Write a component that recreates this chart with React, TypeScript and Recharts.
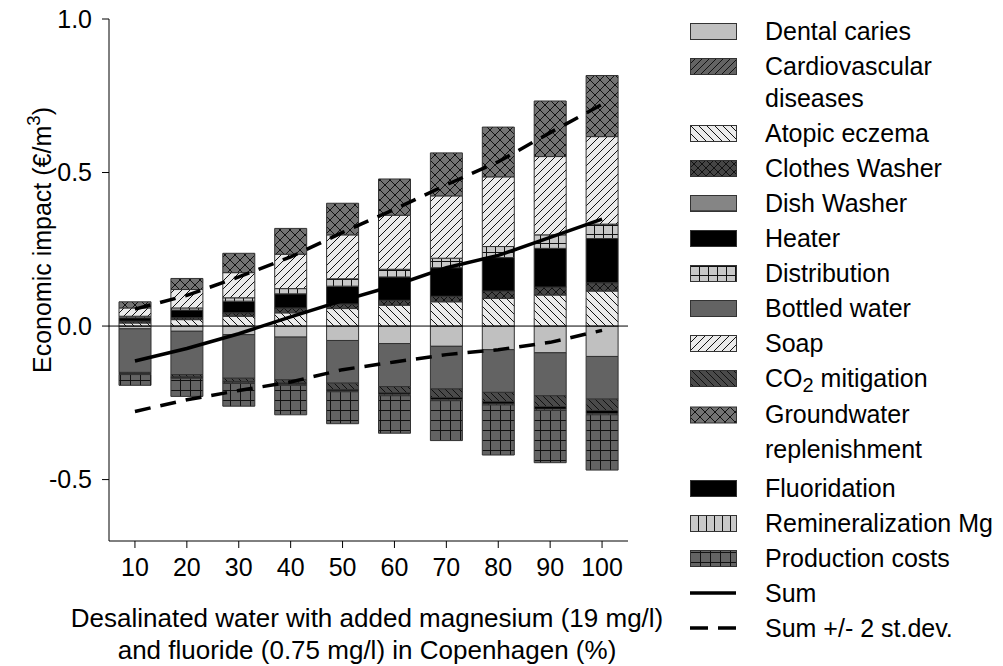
import React from 'react'
import { ComposedChart, Bar, Line, XAxis, YAxis, ReferenceLine } from 'recharts'

const categories = ['10', '20', '30', '40', '50', '60', '70', '80', '90', '100']

// stacked components (€/m3); costs below zero, benefits above
const dentalCaries = [-0.009, -0.017, -0.028, -0.036, -0.047, -0.057, -0.066, -0.077, -0.087, -0.099]
const cardiovascular = [0, 0, 0, 0, 0, 0, 0, 0, 0, 0]
const atopicEczema = [0.01, 0.021, 0.032, 0.043, 0.057, 0.068, 0.079, 0.09, 0.101, 0.114]
const clothesWasher = [0.006, 0.006, 0.011, 0.016, 0.015, 0.016, 0.018, 0.024, 0.026, 0.027]
const dishWasher = [0, 0, 0, 0, 0, 0, 0, 0, 0, 0]
const heater = [0.011, 0.025, 0.038, 0.046, 0.058, 0.076, 0.093, 0.109, 0.126, 0.144]
const distribution = [0.005, 0.007, 0.011, 0.017, 0.024, 0.025, 0.031, 0.036, 0.044, 0.047]
const bottledWater = [-0.142, -0.141, -0.142, -0.139, -0.139, -0.14, -0.139, -0.139, -0.14, -0.139]
const soap = [0.027, 0.06, 0.082, 0.112, 0.143, 0.176, 0.203, 0.227, 0.255, 0.285]
const co2Mitigation = [-0.004, -0.008, -0.011, -0.011, -0.021, -0.021, -0.028, -0.03, -0.035, -0.037]
const groundwater = [0.02, 0.036, 0.063, 0.084, 0.103, 0.118, 0.14, 0.162, 0.181, 0.199]
const fluoridation = [-0.002, -0.003, -0.004, -0.005, -0.005, -0.006, -0.007, -0.008, -0.009, -0.01]
const remineralizationMg = [-0.001, -0.001, -0.002, -0.002, -0.002, -0.003, -0.003, -0.003, -0.004, -0.004]
const productionCosts = [-0.035, -0.059, -0.074, -0.096, -0.104, -0.122, -0.13, -0.163, -0.17, -0.18]

const sum = [-0.114, -0.073, -0.025, 0.03, 0.083, 0.132, 0.19, 0.23, 0.289, 0.348]
const sumUpper = [0.055, 0.1, 0.16, 0.225, 0.305, 0.38, 0.46, 0.535, 0.63, 0.722]
const sumLower = [-0.278, -0.24, -0.21, -0.182, -0.142, -0.117, -0.093, -0.077, -0.053, -0.014]

const yTicks = [-0.5, 0, 0.5, 1]

const rows = categories.map((pct, i) => ({
  pct,
  dental: dentalCaries[i],
  cardio: cardiovascular[i],
  atopic: atopicEczema[i],
  clothes: clothesWasher[i],
  dish: dishWasher[i],
  heater: heater[i],
  distribution: distribution[i],
  bottled: bottledWater[i],
  soap: soap[i],
  co2: co2Mitigation[i],
  groundwater: groundwater[i],
  fluoridation: fluoridation[i],
  remin: remineralizationMg[i],
  production: productionCosts[i],
  sum: sum[i],
  upper: sumUpper[i],
  lower: sumLower[i],
}))

const series = [
  { key: 'dental', name: 'Dental caries', fill: '#c0c0c0' },
  { key: 'cardio', name: 'Cardiovascular\ndiseases', fill: 'url(#pCardio)' },
  { key: 'atopic', name: 'Atopic eczema', fill: 'url(#pAtopic)' },
  { key: 'clothes', name: 'Clothes Washer', fill: 'url(#pClothes)' },
  { key: 'dish', name: 'Dish Washer', fill: 'url(#pDish)' },
  { key: 'heater', name: 'Heater', fill: '#000' },
  { key: 'distribution', name: 'Distribution', fill: 'url(#pDistr)' },
  { key: 'bottled', name: 'Bottled water', fill: '#636363' },
  { key: 'soap', name: 'Soap', fill: 'url(#pSoap)' },
  { key: 'co2', name: 'CO2 mitigation', fill: 'url(#pCo2)' },
  { key: 'groundwater', name: 'Groundwater\nreplenishment', fill: 'url(#pGround)' },
  { key: 'fluoridation', name: 'Fluoridation', fill: '#000' },
  { key: 'remin', name: 'Remineralization Mg', fill: 'url(#pRemin)' },
  { key: 'production', name: 'Production costs', fill: 'url(#pProd)' },
]

const FONT = '"Liberation Sans", Arial, sans-serif'

function Hatch({ id, bg, size, kind }: { id: string; bg: string; size: number; kind: string }) {
  const s = size
  const fwd = `M0,${s} L${s},0 M-2,2 L2,-2 M${s - 2},${s + 2} L${s + 2},${s - 2}`
  const back = `M0,0 L${s},${s} M-2,${s - 2} L2,${s + 2} M${s - 2},-2 L${s + 2},2`
  let d = ''
  if (kind === 'fwd') d = fwd
  if (kind === 'back') d = back
  if (kind === 'cross') d = fwd + ' ' + back
  if (kind === 'grid') d = `M0,0.5 L${s},0.5 M0.5,0 L0.5,${s}`
  if (kind === 'vert') d = `M0.5,0 L0.5,${s}`
  if (kind === 'horiz') d = `M0,${s / 2} L${s},${s / 2}`
  return (
    <pattern id={id} patternUnits="userSpaceOnUse" width={s} height={s}>
      <rect width={s} height={s} fill={bg} />
      <path d={d} stroke="#111" strokeWidth={1} fill="none" />
    </pattern>
  )
}

function Patterns() {
  return (
    <svg width={0} height={0} style={{ position: 'absolute' }}>
      <defs>
        <Hatch id="pCardio" bg="#636363" size={7} kind="fwd" />
        <Hatch id="pAtopic" bg="#ebebeb" size={8} kind="back" />
        <Hatch id="pClothes" bg="#454545" size={8} kind="cross" />
        <Hatch id="pDish" bg="#858585" size={16} kind="horiz" />
        <Hatch id="pDistr" bg="#c8c8c8" size={9} kind="grid" />
        <Hatch id="pSoap" bg="#ebebeb" size={8} kind="fwd" />
        <Hatch id="pCo2" bg="#4a4a4a" size={7} kind="back" />
        <Hatch id="pGround" bg="#737373" size={10} kind="cross" />
        <Hatch id="pRemin" bg="#c8c8c8" size={8} kind="vert" />
        <Hatch id="pProd" bg="#636363" size={10} kind="grid" />
      </defs>
    </svg>
  )
}

function LegendBlock() {
  return (
    <div style={{ position: 'absolute', left: 690, top: 15, fontFamily: FONT, fontSize: 25, color: '#000' }}>
      {series.map((s) => {
        const wide = s.key === 'groundwater'
        return (
          <div key={s.key} style={{ display: 'flex', alignItems: 'flex-start', marginBottom: wide ? 5 : 3 }}>
            <svg width={48} height={wide ? 35 : 32} style={{ flex: 'none' }}>
              <rect x={0.5} y={wide ? 10 : 8.5} width={46} height={16} fill={s.fill} stroke="#333" />
            </svg>
            <div style={{ marginLeft: 27, lineHeight: wide ? '35px' : '32px', whiteSpace: 'pre-line' }}>
              {s.key === 'co2' ? (
                <span>
                  CO<span style={{ fontSize: '0.8em', position: 'relative', top: '0.25em', lineHeight: 0 }}>2</span> mitigation
                </span>
              ) : (
                s.name
              )}
            </div>
          </div>
        )
      })}
      <div style={{ display: 'flex', marginBottom: 3 }}>
        <svg width={48} height={32} style={{ flex: 'none' }}>
          <line x1={0} x2={46} y1={16} y2={16} stroke="#000" strokeWidth={3.5} />
        </svg>
        <div style={{ marginLeft: 27, lineHeight: '32px' }}>Sum</div>
      </div>
      <div style={{ display: 'flex' }}>
        <svg width={48} height={32} style={{ flex: 'none' }}>
          <line x1={0} x2={46} y1={16} y2={16} stroke="#000" strokeWidth={3.5} strokeDasharray="18 10" />
        </svg>
        <div style={{ marginLeft: 27, lineHeight: '32px' }}>Sum +/- 2 st.dev.</div>
      </div>
    </div>
  )
}

export default function App() {
  const tickStyle = { fill: '#000', fontSize: 25, fontFamily: FONT }
  return (
    <div style={{ position: 'absolute', left: 0, top: 0, width: 1003, height: 666, background: '#fff', fontFamily: FONT }}>
      <Patterns />
      <ComposedChart
        width={660}
        height={666}
        data={rows}
        stackOffset="sign"
        margin={{ top: 19, right: 32, bottom: 75, left: 49 }}
      >
        <XAxis
          dataKey="pct"
          height={50}
          tickSize={7}
          tickMargin={10}
          tick={tickStyle}
          axisLine={{ stroke: '#000' }}
          tickLine={{ stroke: '#000' }}
        />
        <XAxis xAxisId="top" orientation="top" dataKey="pct" height={0} tick={false} tickLine={false} axisLine={{ stroke: '#000' }} />
        <YAxis
          domain={[-0.7, 1]}
          ticks={yTicks}
          width={60}
          tickSize={7}
          tickMargin={10}
          tick={tickStyle}
          axisLine={{ stroke: '#000' }}
          tickLine={{ stroke: '#000' }}
          tickFormatter={(v: number) => v.toFixed(1)}
        />
        <YAxis yAxisId="right" orientation="right" domain={[-0.7, 1]} width={0} tick={false} tickLine={false} axisLine={{ stroke: '#000' }} />
        {series.map((s) => (
          <Bar
            key={s.key}
            dataKey={s.key}
            stackId="a"
            barSize={32}
            fill={s.fill}
            stroke="#333"
            strokeWidth={1}
            isAnimationActive={false}
          />
        ))}
        <ReferenceLine y={0} stroke="#000" strokeWidth={1} />
        <Line dataKey="sum" type="linear" stroke="#000" strokeWidth={3.5} dot={false} isAnimationActive={false} />
        <Line dataKey="upper" type="linear" stroke="#000" strokeWidth={3.5} strokeDasharray="16 10" dot={false} isAnimationActive={false} />
        <Line dataKey="lower" type="linear" stroke="#000" strokeWidth={3.5} strokeDasharray="16 10" dot={false} isAnimationActive={false} />
      </ComposedChart>
      <div
        style={{
          position: 'absolute',
          left: 38,
          top: 240,
          transform: 'translate(-50%, -50%) rotate(-90deg)',
          whiteSpace: 'nowrap',
          fontSize: 25,
          lineHeight: '30px',
        }}
      >
        Economic impact (€/m<span style={{ fontSize: '0.75em', verticalAlign: '0.55em' }}>3</span>)
      </div>
      <div
        style={{
          position: 'absolute',
          left: 367,
          top: 602,
          transform: 'translateX(-50%)',
          whiteSpace: 'nowrap',
          textAlign: 'center',
          fontSize: 26,
          lineHeight: '32px',
        }}
      >
        Desalinated water with added magnesium (19 mg/l)
        <br />
        and fluoride (0.75 mg/l) in Copenhagen (%)
      </div>
      <LegendBlock />
    </div>
  )
}
